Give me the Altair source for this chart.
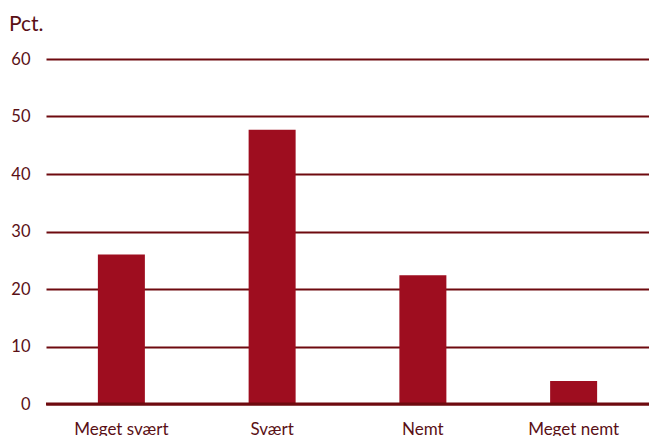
import altair as alt
import pandas as pd

categories = ["Meget svært", "Svært", "Nemt", "Meget nemt"]
values = [26.0, 47.7, 22.4, 4.0]
y_ticks = [0, 10, 20, 30, 40, 50, 60]

df = pd.DataFrame({"kategori": categories, "pct": values})

FONT = "Lato"
GRID = "#6e0a0f"
TEXT = "#5a1016"
BAR = "#9e0d1f"

base = alt.Chart(df)

bars = base.mark_bar(color=BAR, size=47).encode(
    x=alt.X("kategori:N", sort=categories, title=None,
            scale=alt.Scale(paddingInner=0, paddingOuter=0),
            axis=alt.Axis(labelAngle=0, domain=False, ticks=False,
                          labelFont=FONT, labelFontSize=17, labelColor=TEXT,
                          labelPadding=17, labelBaseline="top")),
    y=alt.Y("pct:Q", title=None,
            scale=alt.Scale(domain=[0, 60]),
            axis=alt.Axis(values=y_ticks, grid=True, gridColor=GRID, gridWidth=2,
                          gridOpacity=1, domain=False, ticks=False,
                          labelFont=FONT, labelFontSize=16.5, labelColor=TEXT,
                          labelPadding=16, labelAlign="right")),
)

zero = alt.Chart(pd.DataFrame({"y": [0]})).mark_rule(color=GRID, strokeWidth=3).encode(
    y=alt.Y("y:Q", scale=alt.Scale(domain=[0, 60]))
)

chart = alt.layer(bars, zero).properties(
    width=603, height=345,
    padding={"left": 46, "top": 59, "right": 0, "bottom": 32},
    autosize=alt.AutoSizeParams(type="none"),
    title=alt.TitleParams("Pct.", font=FONT, fontSize=21, fontWeight="normal",
                          color=TEXT, anchor="start", frame="group",
                          dx=-37, dy=-16, orient="top", offset=0),
).configure_view(stroke=None).configure_axis(gridCap="butt")

chart.save("out.html", embed_options={"renderer": "svg", "actions": False})
